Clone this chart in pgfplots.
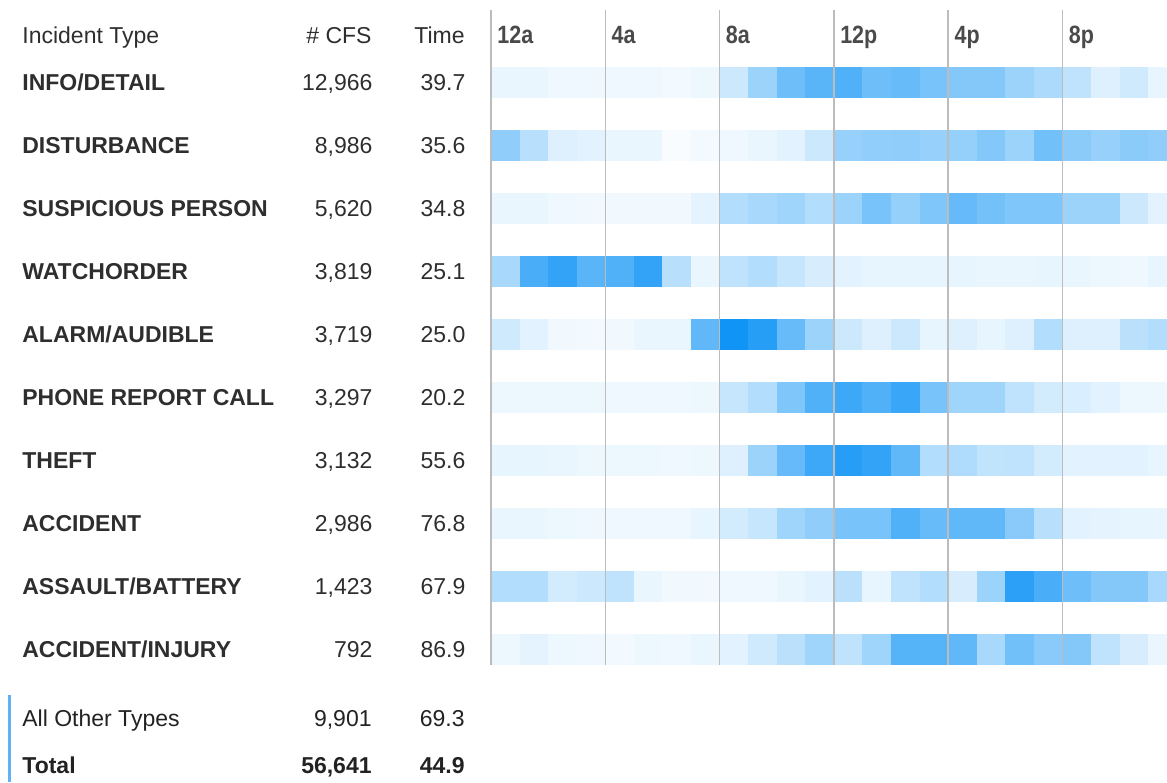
\documentclass[border=0pt]{standalone}
\usepackage{pgfplots}
\pgfplotsset{compat=1.18}
\usepackage{fontspec}
\setmainfont{Liberation Sans}
\newfontfamily\tickfont[FakeStretch=0.86]{Liberation Sans}
\definecolor{txt}{HTML}{2E2E2E}
\definecolor{dark}{HTML}{222222}
\definecolor{tickgray}{HTML}{4A4A4A}
\definecolor{gridgray}{RGB}{188,188,188}
\definecolor{barblue}{RGB}{95,178,245}
\pgfdeclareplotmark{cell}{\pgfpathrectangle{\pgfpoint{-7.17pt}{-7.75pt}}{\pgfpoint{14.34pt}{15.5pt}}\pgfusepathqfill}
\newcommand\rowlab[3]{\makebox[175pt][l]{\bfseries #1\hfill\mdseries #2}\makebox[46.5pt][r]{#3}}
\newcommand\tabfont{\fontsize{11.5pt}{13pt}\selectfont}
\begin{document}
\begin{tikzpicture}
\path[use as bounding box] (0,0) rectangle (583.5pt,-391pt);
% header
\node[anchor=base west, inner sep=0pt, font=\tabfont, text=txt] at (11pt,-21.65pt) {Incident Type};
\node[anchor=base east, inner sep=0pt, font=\tabfont, text=txt] at (186pt,-21.65pt) {\# CFS};
\node[anchor=base east, inner sep=0pt, font=\tabfont, text=txt] at (232.5pt,-21.65pt) {Time};
% footer
\fill[barblue] (3.75pt,-347.5pt) rectangle (5.25pt,-391pt);
\node[anchor=base west, inner sep=0pt, font=\tabfont, text=dark] at (11pt,-363.4pt) {All Other Types};
\node[anchor=base east, inner sep=0pt, font=\tabfont, text=dark] at (186pt,-363.4pt) {9,901};
\node[anchor=base east, inner sep=0pt, font=\tabfont, text=dark] at (232.5pt,-363.4pt) {69.3};
\node[anchor=base west, inner sep=0pt, font=\tabfont\bfseries, text=dark] at (11pt,-386.8pt) {Total};
\node[anchor=base east, inner sep=0pt, font=\tabfont\bfseries, text=dark] at (186pt,-386.8pt) {56,641};
\node[anchor=base east, inner sep=0pt, font=\tabfont\bfseries, text=dark] at (232.5pt,-386.8pt) {44.9};
\begin{axis}[
  at={(245.5pt,-5pt)}, anchor=north west,
  scale only axis, width=338pt, height=327.5pt,
  xmin=0, xmax=23.66, ymin=-1.143, ymax=9.254, y dir=reverse,
  axis line style={draw=none}, major tick length=0pt,
  xtick={0,4,8,12,16,20}, xticklabels={12a,4a,8a,12p,4p,8p},
  xticklabel pos=upper,
  xticklabel style={anchor=base west, xshift=3pt, yshift=-16.7pt, inner sep=0pt,
    font=\tickfont\bfseries\fontsize{12.5pt}{14pt}\selectfont, text=tickgray},
  xmajorgrids, major grid style={draw=gridgray, line width=0.75pt},
  ytick={0,1,2,3,4,5,6,7,8,9},
  yticklabels={
    {\rowlab{INFO/DETAIL}{12,966}{39.7}},
    {\rowlab{DISTURBANCE}{8,986}{35.6}},
    {\rowlab{SUSPICIOUS PERSON}{5,620}{34.8}},
    {\rowlab{WATCHORDER}{3,819}{25.1}},
    {\rowlab{ALARM/AUDIBLE}{3,719}{25.0}},
    {\rowlab{PHONE REPORT CALL}{3,297}{20.2}},
    {\rowlab{THEFT}{3,132}{55.6}},
    {\rowlab{ACCIDENT}{2,986}{76.8}},
    {\rowlab{ASSAULT/BATTERY}{1,423}{67.9}},
    {\rowlab{ACCIDENT/INJURY}{792}{86.9}}},
  yticklabel style={anchor=base west, xshift=-234.5pt, yshift=-4.15pt, inner sep=0pt,
    font=\tabfont, text=txt},
  axis on top, clip marker paths=true,
  colormap={hm}{rgb255=(250,253,255) rgb255=(16,148,245)},
  point meta min=0, point meta max=1,
  hm/.style={scatter, only marks, mark=cell, point meta=explicit,
    scatter/use mapped color={draw=none, fill=mapped color}},
]
\addplot[hm] coordinates {(0.5,0)[0.07] (1.5,0)[0.07] (2.5,0)[0.05] (3.5,0)[0.05] (4.5,0)[0.05] (5.5,0)[0.05] (6.5,0)[0.03] (7.5,0)[0.06] (8.5,0)[0.2] (9.5,0)[0.4] (10.5,0)[0.6] (11.5,0)[0.68] (12.5,0)[0.72] (13.5,0)[0.6] (14.5,0)[0.62] (15.5,0)[0.55] (16.5,0)[0.5] (17.5,0)[0.5] (18.5,0)[0.4] (19.5,0)[0.33] (20.5,0)[0.25] (21.5,0)[0.12] (22.5,0)[0.18] (23.5,0)[0.08]};
\addplot[hm] coordinates {(0.5,1)[0.45] (1.5,1)[0.28] (2.5,1)[0.12] (3.5,1)[0.1] (4.5,1)[0.07] (5.5,1)[0.07] (6.5,1)[0.01] (7.5,1)[0.03] (8.5,1)[0.05] (9.5,1)[0.07] (10.5,1)[0.1] (11.5,1)[0.2] (12.5,1)[0.42] (13.5,1)[0.44] (14.5,1)[0.45] (15.5,1)[0.42] (16.5,1)[0.43] (17.5,1)[0.5] (18.5,1)[0.4] (19.5,1)[0.58] (20.5,1)[0.47] (21.5,1)[0.42] (22.5,1)[0.47] (23.5,1)[0.45]};
\addplot[hm] coordinates {(0.5,2)[0.07] (1.5,2)[0.07] (2.5,2)[0.05] (3.5,2)[0.04] (4.5,2)[0.04] (5.5,2)[0.04] (6.5,2)[0.04] (7.5,2)[0.09] (8.5,2)[0.3] (9.5,2)[0.35] (10.5,2)[0.38] (11.5,2)[0.3] (12.5,2)[0.4] (13.5,2)[0.55] (14.5,2)[0.43] (15.5,2)[0.52] (16.5,2)[0.63] (17.5,2)[0.57] (18.5,2)[0.52] (19.5,2)[0.52] (20.5,2)[0.4] (21.5,2)[0.4] (22.5,2)[0.2] (23.5,2)[0.1]};
\addplot[hm] coordinates {(0.5,3)[0.35] (1.5,3)[0.75] (2.5,3)[0.85] (3.5,3)[0.68] (4.5,3)[0.72] (5.5,3)[0.85] (6.5,3)[0.28] (7.5,3)[0.07] (8.5,3)[0.25] (9.5,3)[0.3] (10.5,3)[0.22] (11.5,3)[0.15] (12.5,3)[0.1] (13.5,3)[0.08] (14.5,3)[0.08] (15.5,3)[0.08] (16.5,3)[0.08] (17.5,3)[0.07] (18.5,3)[0.07] (19.5,3)[0.08] (20.5,3)[0.07] (21.5,3)[0.06] (22.5,3)[0.05] (23.5,3)[0.08]};
\addplot[hm] coordinates {(0.5,4)[0.18] (1.5,4)[0.1] (2.5,4)[0.04] (3.5,4)[0.03] (4.5,4)[0.04] (5.5,4)[0.07] (6.5,4)[0.07] (7.5,4)[0.65] (8.5,4)[1.0] (9.5,4)[0.9] (10.5,4)[0.62] (11.5,4)[0.4] (12.5,4)[0.2] (13.5,4)[0.12] (14.5,4)[0.2] (15.5,4)[0.08] (16.5,4)[0.12] (17.5,4)[0.08] (18.5,4)[0.12] (19.5,4)[0.3] (20.5,4)[0.12] (21.5,4)[0.12] (22.5,4)[0.27] (23.5,4)[0.3]};
\addplot[hm] coordinates {(0.5,5)[0.06] (1.5,5)[0.06] (2.5,5)[0.06] (3.5,5)[0.06] (4.5,5)[0.05] (5.5,5)[0.05] (6.5,5)[0.05] (7.5,5)[0.06] (8.5,5)[0.22] (9.5,5)[0.3] (10.5,5)[0.52] (11.5,5)[0.72] (12.5,5)[0.8] (13.5,5)[0.72] (14.5,5)[0.82] (15.5,5)[0.55] (16.5,5)[0.38] (17.5,5)[0.38] (18.5,5)[0.25] (19.5,5)[0.17] (20.5,5)[0.14] (21.5,5)[0.1] (22.5,5)[0.06] (23.5,5)[0.06]};
\addplot[hm] coordinates {(0.5,6)[0.08] (1.5,6)[0.08] (2.5,6)[0.07] (3.5,6)[0.06] (4.5,6)[0.06] (5.5,6)[0.06] (6.5,6)[0.05] (7.5,6)[0.06] (8.5,6)[0.12] (9.5,6)[0.4] (10.5,6)[0.63] (11.5,6)[0.8] (12.5,6)[0.9] (13.5,6)[0.85] (14.5,6)[0.65] (15.5,6)[0.3] (16.5,6)[0.32] (17.5,6)[0.24] (18.5,6)[0.25] (19.5,6)[0.17] (20.5,6)[0.1] (21.5,6)[0.1] (22.5,6)[0.1] (23.5,6)[0.08]};
\addplot[hm] coordinates {(0.5,7)[0.07] (1.5,7)[0.07] (2.5,7)[0.06] (3.5,7)[0.05] (4.5,7)[0.05] (5.5,7)[0.05] (6.5,7)[0.05] (7.5,7)[0.08] (8.5,7)[0.17] (9.5,7)[0.22] (10.5,7)[0.38] (11.5,7)[0.45] (12.5,7)[0.55] (13.5,7)[0.55] (14.5,7)[0.72] (15.5,7)[0.62] (16.5,7)[0.65] (17.5,7)[0.65] (18.5,7)[0.48] (19.5,7)[0.28] (20.5,7)[0.1] (21.5,7)[0.09] (22.5,7)[0.08] (23.5,7)[0.08]};
\addplot[hm] coordinates {(0.5,8)[0.3] (1.5,8)[0.3] (2.5,8)[0.17] (3.5,8)[0.2] (4.5,8)[0.25] (5.5,8)[0.07] (6.5,8)[0.04] (7.5,8)[0.04] (8.5,8)[0.05] (9.5,8)[0.05] (10.5,8)[0.07] (11.5,8)[0.1] (12.5,8)[0.27] (13.5,8)[0.08] (14.5,8)[0.25] (15.5,8)[0.3] (16.5,8)[0.15] (17.5,8)[0.4] (18.5,8)[0.88] (19.5,8)[0.75] (20.5,8)[0.6] (21.5,8)[0.5] (22.5,8)[0.5] (23.5,8)[0.35]};
\addplot[hm] coordinates {(0.5,9)[0.06] (1.5,9)[0.09] (2.5,9)[0.06] (3.5,9)[0.05] (4.5,9)[0.03] (5.5,9)[0.06] (6.5,9)[0.05] (7.5,9)[0.07] (8.5,9)[0.1] (9.5,9)[0.18] (10.5,9)[0.27] (11.5,9)[0.38] (12.5,9)[0.25] (13.5,9)[0.38] (14.5,9)[0.7] (15.5,9)[0.7] (16.5,9)[0.65] (17.5,9)[0.35] (18.5,9)[0.58] (19.5,9)[0.48] (20.5,9)[0.5] (21.5,9)[0.25] (22.5,9)[0.15] (23.5,9)[0.07]};
\end{axis}
\end{tikzpicture}
\end{document}
